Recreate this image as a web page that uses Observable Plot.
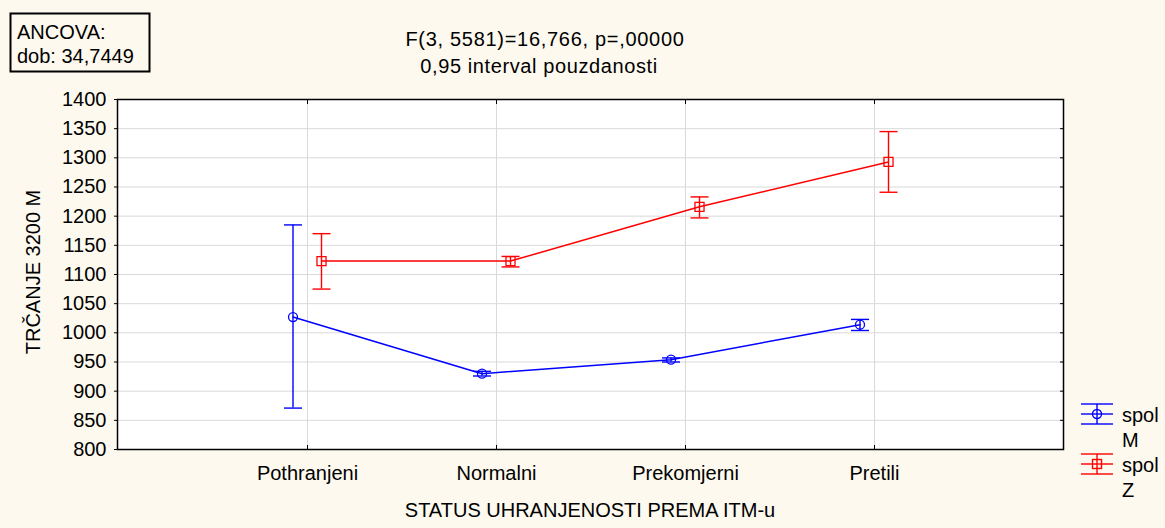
<!DOCTYPE html>
<html><head><meta charset="utf-8">
<script src="https://cdn.jsdelivr.net/npm/d3@7"></script>
<script src="https://cdn.jsdelivr.net/npm/@observablehq/plot@0.6"></script>
<style>body{margin:0;background:#fdf9ee;}</style>
</head><body><div id="chart"></div>
<script>
// ---- data ----
const categories = ["Pothranjeni", "Normalni", "Prekomjerni", "Pretili"];
const meanM = [1027, 930, 954, 1014];
const lowM  = [871, 926, 950, 1004];
const highM = [1185, 934, 957, 1023];
const meanZ = [1123, 1123, 1216, 1293];
const lowZ  = [1075, 1113, 1197, 1241];
const highZ = [1170, 1131, 1233, 1345];
const yTicks = [800, 850, 900, 950, 1000, 1050, 1100, 1150, 1200, 1250, 1300, 1350, 1400];
const titleLines = ["F(3, 5581)=16,766, p=,00000", "0,95 interval pouzdanosti"];
const boxLines = ["ANCOVA:", "dob: 34,7449"];
const legendItems = [{label: ["spol", "M"], color: "#0000ff", symbol: "circle"},
                     {label: ["spol", "Z"], color: "#ff0000", symbol: "square"}];
const xLabel = "STATUS UHRANJENOSTI PREMA ITM-u";
const yLabel = "TRČANJE 3200 M";

const rowsM = categories.map((c, i) => ({cat: c, mean: meanM[i], low: lowM[i], high: highM[i]}));
const rowsZ = categories.map((c, i) => ({cat: c, mean: meanZ[i], low: lowZ[i], high: highZ[i]}));

const hline = {draw(ctx, size) { const w = Math.sqrt(size / Math.PI); ctx.moveTo(-w, 0); ctx.lineTo(w, 0); }};

function series(rows, color, symbol, r, dx) {
  return [
    Plot.line(rows, {x: "cat", y: "mean", stroke: color, strokeWidth: 1.5, dx}),
    Plot.ruleX(rows, {x: "cat", y1: "low", y2: "high", stroke: color, strokeWidth: 1.4, dx}),
    Plot.dot(rows, {x: "cat", y: "low", symbol: hline, r: 9, stroke: color, strokeWidth: 1.4, dx}),
    Plot.dot(rows, {x: "cat", y: "high", symbol: hline, r: 9, stroke: color, strokeWidth: 1.4, dx}),
    Plot.dot(rows, {x: "cat", y: "mean", symbol, r, stroke: color, fill: "none", strokeWidth: 1.3, dx})
  ];
}

const font = "'Liberation Sans', Arial, sans-serif";
const chart = Plot.plot({
  width: 1165, height: 528,
  marginLeft: 117, marginRight: 102, marginTop: 99, marginBottom: 79,
  style: {background: "#fdf9ee", fontFamily: font, fontSize: "20px", color: "#000", overflow: "visible"},
  x: {type: "point", domain: categories, padding: 1, axis: null},
  y: {domain: [800, 1400], axis: null},
  marks: [
    Plot.frame({fill: "white", stroke: null}),
    Plot.gridY(yTicks, {stroke: "#d9d9d9", strokeOpacity: 1, strokeWidth: 1}),
    Plot.gridX(categories, {stroke: "#d9d9d9", strokeOpacity: 1, strokeWidth: 1}),
    Plot.axisY(yTicks, {anchor: "left", tickSize: 3, tickPadding: 8, label: null, fontSize: 20, tickFormat: d => String(d)}),
    Plot.axisY(yTicks, {anchor: "right", tickSize: -4, tickFormat: () => "", label: null}),
    Plot.axisX(categories, {anchor: "bottom", tickSize: -4, tickFormat: () => "", label: null}),
    Plot.axisX(categories, {anchor: "top", tickSize: -4, tickFormat: () => "", label: null}),
    Plot.axisX(categories, {anchor: "bottom", tickSize: 0, tickPadding: 16, label: null, fontSize: 20}),
    Plot.frame({stroke: "black", strokeWidth: 1.5}),
    ...series(rowsM, "#0000ff", "circle", 4.5, -14.5),
    ...series(rowsZ, "#ff0000", "square", 5.1, 14)
  ]
});
document.getElementById("chart").appendChild(chart);

const svg = d3.select(chart);
const txt = (x, y, s, anchor = "start", extra = {}) => {
  const t = svg.append("text").attr("x", x).attr("y", y).attr("text-anchor", anchor)
    .attr("font-family", font).attr("font-size", 20).attr("fill", "#000").text(s);
  for (const k in extra) t.attr(k, extra[k]);
  return t;
};
// title
txt(545, 46, titleLines[0], "middle", {"letter-spacing": "0.7px"});
txt(539, 73, titleLines[1], "middle", {"letter-spacing": "0.6px"});
// box
svg.append("rect").attr("x", 10.5).attr("y", 13.5).attr("width", 139).attr("height", 58)
  .attr("fill", "#fdf9ee").attr("stroke", "#000").attr("stroke-width", 2);
txt(17, 39, boxLines[0]);
txt(17, 63, boxLines[1]);
// axis labels
txt(590, 517, xLabel, "middle");
txt(0, 0, yLabel, "middle", {transform: "translate(40,272) rotate(-90)"});
// legend
legendItems.forEach((it, i) => {
  const y0 = 414 + i * 50;
  const g = svg.append("g").attr("stroke", it.color).attr("stroke-width", 1.4).attr("fill", "none");
  [-10, 0, 10].forEach(d => g.append("line").attr("x1", 1081).attr("x2", 1113).attr("y1", y0 + d).attr("y2", y0 + d));
  g.append("line").attr("x1", 1097).attr("x2", 1097).attr("y1", y0 - 10).attr("y2", y0 + 10);
  if (it.symbol === "circle") g.append("circle").attr("cx", 1097).attr("cy", y0).attr("r", 4.5);
  else g.append("rect").attr("x", 1092.5).attr("y", y0 - 4.5).attr("width", 9).attr("height", 9);
  txt(1122, y0 + 8, it.label[0]);
  txt(1122, y0 + 33, it.label[1]);
});
</script></body></html>
